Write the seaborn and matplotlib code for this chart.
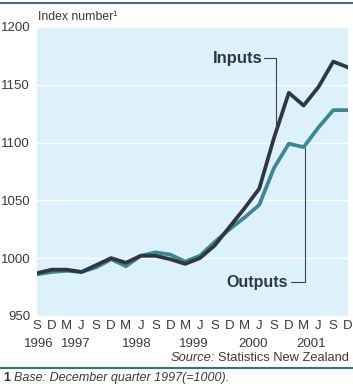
import pandas as pd
import matplotlib.pyplot as plt
import seaborn as sns

quarters = ["S", "D", "M", "J", "S", "D", "M", "J", "S", "D", "M", "J",
            "S", "D", "M", "J", "S", "D", "M", "J", "S", "D"]
years = ["1996", "1997", "1998", "1999", "2000", "2001"]
year_pos = [0.1, 2.6, 6.7, 10.6, 14.6, 18.5]

inputs = [987, 990, 990, 988, 994, 1000, 996, 1002, 1002, 999, 995, 1000,
          1011, 1027, 1043, 1060, 1104, 1143, 1132, 1148, 1170, 1165]
outputs = [986, 988, 989, 988, 992, 999, 993, 1002, 1005, 1003, 997, 1002,
           1014, 1025, 1035, 1046, 1078, 1099, 1096, 1113, 1128, 1128]

df = pd.DataFrame({
    "q": list(range(len(quarters))) * 2,
    "value": outputs + inputs,
    "series": ["Outputs"] * len(outputs) + ["Inputs"] * len(inputs),
})

sns.set_style("white")
plt.rcParams["font.family"] = ["Liberation Sans", "DejaVu Sans"]
txt = "#3a3a3a"

fig = plt.figure(figsize=(3.53, 3.9), dpi=100)
ax = fig.add_axes([0.105, 0.19, 0.881, 0.741])
ax.set_facecolor("#dcf1fa")

sns.lineplot(data=df, x="q", y="value", hue="series",
             palette={"Outputs": "#3e8791", "Inputs": "#2e3742"},
             linewidth=2.7, legend=False, ax=ax)

ax.set_xlim(0, 21)
ax.set_ylim(950, 1200)
ax.set_yticks([950, 1000, 1050, 1100, 1150, 1200])
ax.grid(axis="y", color="white", linewidth=1.0)
ax.set_axisbelow(True)
for s in ax.spines.values():
    s.set_visible(False)

ax.set_xticks(range(len(quarters)))
ax.set_xticklabels(quarters)
ax.set_xticks(year_pos, minor=True)
ax.set_xticklabels(years, minor=True)
ax.tick_params(axis="x", which="major", length=0, pad=3, labelsize=9.5, colors=txt)
ax.tick_params(axis="x", which="minor", length=0, pad=16, labelsize=9.5, colors=txt)
ax.tick_params(axis="y", length=0, pad=5, labelsize=9.5, colors=txt)
ax.set_xlabel("")
ax.set_ylabel("")

fig.text(0.108, 0.957, "Index number\u00b9", fontsize=8.8, color=txt, va="center")

# direct labels with leader lines
ax.text(15.2, 1173, "Inputs", fontsize=12, fontweight="bold", color="#2e3742",
        ha="right", va="center")
ax.plot([15.35, 16.15, 16.15], [1173, 1173, 1112], color="#444444", linewidth=0.8)
ax.text(16.95, 979, "Outputs", fontsize=11.5, fontweight="bold", color="#2e3742",
        ha="right", va="center")
ax.plot([17.15, 18.1, 18.1], [979, 979, 1095], color="#444444", linewidth=0.8)

src = fig.text(0.988, 0.082, "Statistics New Zealand", fontsize=9.3,
               color=txt, ha="right", va="center")
fig.canvas.draw()
bb = src.get_window_extent(fig.canvas.get_renderer())
fig.text((bb.x0 - 3) / fig.bbox.width, 0.082, "Source:", fontsize=9.3,
         style="italic", color=txt, ha="right", va="center")

line_col = "#3b6e80"
fig.add_artist(plt.Line2D([0, 1], [0.992, 0.992], color=line_col, linewidth=1.5))
fig.add_artist(plt.Line2D([0, 1], [0.056, 0.056], color=line_col, linewidth=1.5))
fig.text(0.008, 0.03, "1", fontsize=9, fontweight="bold", color=txt, va="center")
fig.text(0.04, 0.03, "Base: December quarter 1997(=1000).", fontsize=9,
         style="italic", color=txt, va="center")

fig.savefig("out.png", dpi=100, facecolor="white")
